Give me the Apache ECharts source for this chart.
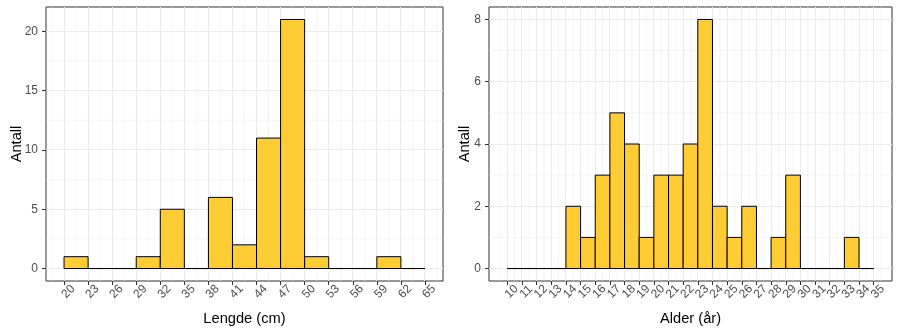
<!DOCTYPE html>
<html>
<head>
<meta charset="utf-8">
<script src="https://cdn.jsdelivr.net/npm/echarts@6/dist/echarts.min.js"></script>
<style>html,body{margin:0;padding:0;background:#fff}#c{width:899px;height:333px}</style>
</head>
<body>
<div id="c"></div>
<script>
// ---- Data ----
const lenBinStarts = [20, 23, 26, 29, 32, 35, 38, 41, 44, 47, 50, 53, 56, 59, 62];
const lenCounts    = [1, 0, 0, 1, 5, 0, 6, 2, 11, 21, 1, 0, 0, 1, 0];
const lenBinWidth  = 3;
const lenXTicks    = [20, 23, 26, 29, 32, 35, 38, 41, 44, 47, 50, 53, 56, 59, 62, 65];
const lenXMinor    = [18.5, 21.5, 24.5, 27.5, 30.5, 33.5, 36.5, 39.5, 42.5, 45.5, 48.5, 51.5, 54.5, 57.5, 60.5, 63.5, 66.5];
const lenYTicks    = [0, 5, 10, 15, 20];
const lenYMinor    = [2.5, 7.5, 12.5, 17.5];

const ageBinStarts = [10, 11, 12, 13, 14, 15, 16, 17, 18, 19, 20, 21, 22, 23, 24, 25, 26, 27, 28, 29, 30, 31, 32, 33, 34];
const ageCounts    = [0, 0, 0, 0, 2, 1, 3, 5, 4, 1, 3, 3, 4, 8, 2, 1, 2, 0, 1, 3, 0, 0, 0, 1, 0];
const ageBinWidth  = 1;
const ageXTicks    = [10, 11, 12, 13, 14, 15, 16, 17, 18, 19, 20, 21, 22, 23, 24, 25, 26, 27, 28, 29, 30, 31, 32, 33, 34, 35];
const ageXMinor    = [9.5, 10.5, 11.5, 12.5, 13.5, 14.5, 15.5, 16.5, 17.5, 18.5, 19.5, 20.5, 21.5, 22.5, 23.5, 24.5, 25.5, 26.5, 27.5, 28.5, 29.5, 30.5, 31.5, 32.5, 33.5, 34.5, 35.5];
const ageYTicks    = [0, 2, 4, 6, 8];
const ageYMinor    = [1, 3, 5, 7];

// ---- Helpers ----
function expand(lo, hi) { const d = (hi - lo) * 0.05; return [lo - d, hi + d]; }
function gridData(xMaj, xMin, yMaj, yMin) {
  const out = [];
  xMin.forEach(v => out.push([0, v, 0]));
  yMin.forEach(v => out.push([1, v, 0]));
  xMaj.forEach(v => out.push([0, v, 1]));
  yMaj.forEach(v => out.push([1, v, 1]));
  return out;
}
function gridRender(params, api) {
  const cs = params.coordSys;
  const dim = api.value(0), v = api.value(1), major = api.value(2);
  const lw = major ? 1 : 0.5;
  let shape;
  if (dim === 0) {
    let x = api.coord([v, 0])[0];
    x = major ? Math.round(x - 0.5) + 0.5 : x;
    shape = { x1: x, y1: cs.y, x2: x, y2: cs.y + cs.height };
  } else {
    let y = api.coord([0, v])[1];
    y = major ? Math.round(y - 0.5) + 0.5 : y;
    shape = { x1: cs.x, y1: y, x2: cs.x + cs.width, y2: y };
  }
  return { type: 'line', shape: shape, style: { stroke: '#EBEBEB', lineWidth: lw }, silent: true };
}
function barRender(params, api) {
  const x0 = api.value(0), x1 = api.value(1), n = api.value(2);
  const p0 = api.coord([x0, n]);
  const p1 = api.coord([x1, 0]);
  return {
    type: 'rect',
    shape: { x: p0[0], y: p0[1], width: p1[0] - p0[0], height: p1[1] - p0[1] },
    style: { fill: '#FFCC33', stroke: '#000000', lineWidth: 1 }
  };
}
function bins(starts, counts, w) { return starts.map((s, i) => [s, s + w, counts[i]]); }

const FONT = 'Liberation Sans, Arial, sans-serif';
function xAxisCfg(gridIndex, ticks, range, name) {
  return {
    type: 'value', gridIndex: gridIndex, min: range[0], max: range[1], position: 'bottom', offset: 0,
    name: name, nameLocation: 'middle', nameGap: 30, nameMoveOverlap: false,
    nameTextStyle: { color: '#000000', fontSize: 14.67, fontFamily: FONT },
    axisLine: { show: false, onZero: false },
    axisTick: { show: true, length: 4, customValues: ticks, lineStyle: { color: '#333333', width: 1 } },
    axisLabel: { show: true, customValues: ticks, rotate: 45, align: 'center', verticalAlign: 'top',
      margin: 6.5, color: '#4D4D4D', fontSize: 12, fontFamily: FONT, hideOverlap: false,
      showMinLabel: true, showMaxLabel: true },
    splitLine: { show: false }, minorTick: { show: false }, minorSplitLine: { show: false }
  };
}
function yAxisCfg(gridIndex, ticks, range, gap) {
  return {
    type: 'value', gridIndex: gridIndex, min: range[0], max: range[1],
    name: 'Antall', nameLocation: 'middle', nameGap: gap, nameMoveOverlap: false,
    nameTextStyle: { color: '#000000', fontSize: 14.67, fontFamily: FONT },
    axisLine: { show: false, onZero: false },
    axisTick: { show: true, length: 4, customValues: ticks, lineStyle: { color: '#333333', width: 1 } },
    axisLabel: { show: true, customValues: ticks, margin: 8, color: '#4D4D4D', fontSize: 12, fontFamily: FONT,
      hideOverlap: false, showMinLabel: true, showMaxLabel: true },
    splitLine: { show: false }
  };
}

const lenXRange = expand(20, 65);
const lenYRange = expand(0, Math.max(...lenCounts));
const ageXRange = expand(10, 35);
const ageYRange = expand(0, Math.max(...ageCounts));
// age tick labels are split over two overlaid axes so that none gets auto-hidden
const ageXTicksA = ageXTicks.filter((v, i) => i % 2 === 0);
const ageXTicksB = ageXTicks.filter((v, i) => i % 2 === 1);

const chart = echarts.init(document.getElementById('c'), null, { renderer: 'canvas' });
chart.setOption({
  animation: false,
  backgroundColor: '#ffffff',
  grid: [
    { left: 46, top: 7, width: 397, height: 274, containLabel: false, outerBoundsMode: 'none',
      show: true, backgroundColor: '#ffffff', borderColor: '#333333', borderWidth: 1 },
    { left: 489, top: 7, width: 403, height: 274, containLabel: false, outerBoundsMode: 'none',
      show: true, backgroundColor: '#ffffff', borderColor: '#333333', borderWidth: 1 }
  ],
  xAxis: [
    xAxisCfg(0, lenXTicks, lenXRange, 'Lengde (cm)'),
    xAxisCfg(1, ageXTicksA, ageXRange, 'Alder (år)'),
    xAxisCfg(1, ageXTicksB, ageXRange, '')
  ],
  yAxis: [
    yAxisCfg(0, lenYTicks, lenYRange, 22),
    yAxisCfg(1, ageYTicks, ageYRange, 17)
  ],
  series: [
    { type: 'custom', xAxisIndex: 0, yAxisIndex: 0, z: 1, silent: true, renderItem: gridRender,
      data: gridData(lenXTicks, lenXMinor, lenYTicks, lenYMinor), encode: { x: 1, y: 1 } },
    { type: 'custom', xAxisIndex: 1, yAxisIndex: 1, z: 1, silent: true, renderItem: gridRender,
      data: gridData(ageXTicks, ageXMinor, ageYTicks, ageYMinor), encode: { x: 1, y: 1 } },
    { type: 'custom', xAxisIndex: 0, yAxisIndex: 0, z: 2, renderItem: barRender,
      data: bins(lenBinStarts, lenCounts, lenBinWidth), encode: { x: [0, 1], y: 2 } },
    { type: 'custom', xAxisIndex: 1, yAxisIndex: 1, z: 2, renderItem: barRender,
      data: bins(ageBinStarts, ageCounts, ageBinWidth), encode: { x: [0, 1], y: 2 } }
  ]
});
</script>
</body>
</html>
